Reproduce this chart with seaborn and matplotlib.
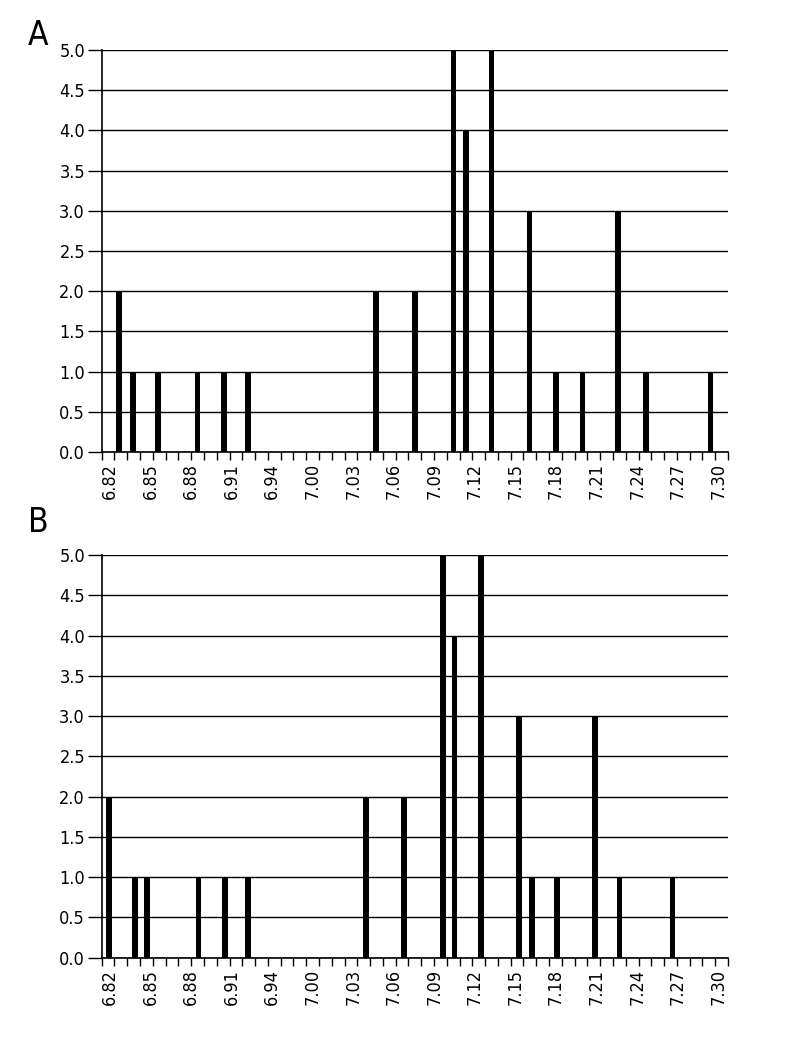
import matplotlib
matplotlib.use("Agg")
import matplotlib.pyplot as plt
import numpy as np
import pandas as pd
import seaborn as sns

# tick labels shown on the x axis (evenly spaced along the axis)
tick_labels = ["6.82", "6.85", "6.88", "6.91", "6.94", "7.00", "7.03", "7.06",
               "7.09", "7.12", "7.15", "7.18", "7.21", "7.24", "7.27", "7.30"]

# panel A: bar positions and counts
a_pos = [6.827, 6.838, 6.858, 6.889, 6.910, 6.929, 7.030, 7.061, 7.091,
         7.101, 7.121, 7.151, 7.172, 7.193, 7.221, 7.243, 7.294]
a_cnt = [2, 1, 1, 1, 1, 1, 2, 2, 5, 4, 5, 3, 1, 1, 3, 1, 1]

# panel B: bar positions and counts
b_pos = [6.819, 6.840, 6.849, 6.890, 6.911, 6.929, 7.022, 7.052, 7.083,
         7.092, 7.113, 7.143, 7.153, 7.173, 7.203, 7.222, 7.264]
b_cnt = [2, 1, 1, 1, 1, 1, 2, 2, 5, 4, 5, 3, 1, 1, 3, 1, 1]

sns.set_theme(style="white")
plt.rcParams["font.family"] = ["DejaVu Sans"]
plt.rcParams["font.stretch"] = "condensed"
plt.rcParams["text.color"] = "black"
plt.rcParams["xtick.color"] = "black"
plt.rcParams["ytick.color"] = "black"

fig = plt.figure(figsize=(8, 10.4), dpi=100)
ax_a = fig.add_axes([0.1271, 0.5654, 0.7829, 0.3865])
ax_b = fig.add_axes([0.1271, 0.0793, 0.7829, 0.3870])

xmin, xmax = 6.8135, 7.3077
bar_w = 0.0045
label_pos = np.linspace(6.82, 7.30, len(tick_labels))
minor_pos = np.linspace(xmin, xmax, 50)


def draw(ax, pos, cnt, letter, letter_y):
    df = pd.DataFrame({"x": pos, "y": cnt})
    step = np.diff(np.sort(df["x"].values)).min()
    sns.barplot(data=df, x="x", y="y", native_scale=True, color="black",
                saturation=1, width=bar_w / step, linewidth=0, ax=ax, zorder=3)
    ax.set_xlim(xmin, xmax)
    ax.set_ylim(0, 5)
    ax.set_yticks(np.arange(0, 5.01, 0.5))
    ax.set_yticklabels([f"{v:.1f}" for v in np.arange(0, 5.01, 0.5)], fontsize=13)
    ax.set_xticks(label_pos)
    ax.set_xticklabels(tick_labels, rotation=90, fontsize=13)
    ax.set_xticks(minor_pos, minor=True)
    ax.tick_params(axis="x", which="major", bottom=True, length=0, pad=8)
    ax.tick_params(axis="x", which="minor", bottom=True, length=6, width=1,
                   color="black", direction="out")
    ax.tick_params(axis="y", left=True, length=10, width=1, color="black",
                   direction="out", pad=2)
    ax.grid(axis="y", color="black", linewidth=1, zorder=1)
    ax.set_axisbelow(True)
    for s in ["top", "right"]:
        ax.spines[s].set_visible(False)
    for s in ["left", "bottom"]:
        ax.spines[s].set_color("black")
        ax.spines[s].set_linewidth(1.2)
    ax.set_xlabel("")
    ax.set_ylabel("")
    ax.text(-0.118, letter_y, letter, transform=ax.transAxes, fontsize=24,
            ha="left", va="center", color="black")


draw(ax_a, a_pos, a_cnt, "A", 1.035)
draw(ax_b, b_pos, b_cnt, "B", 1.08)

fig.savefig("out.png", dpi=100, facecolor="white")
